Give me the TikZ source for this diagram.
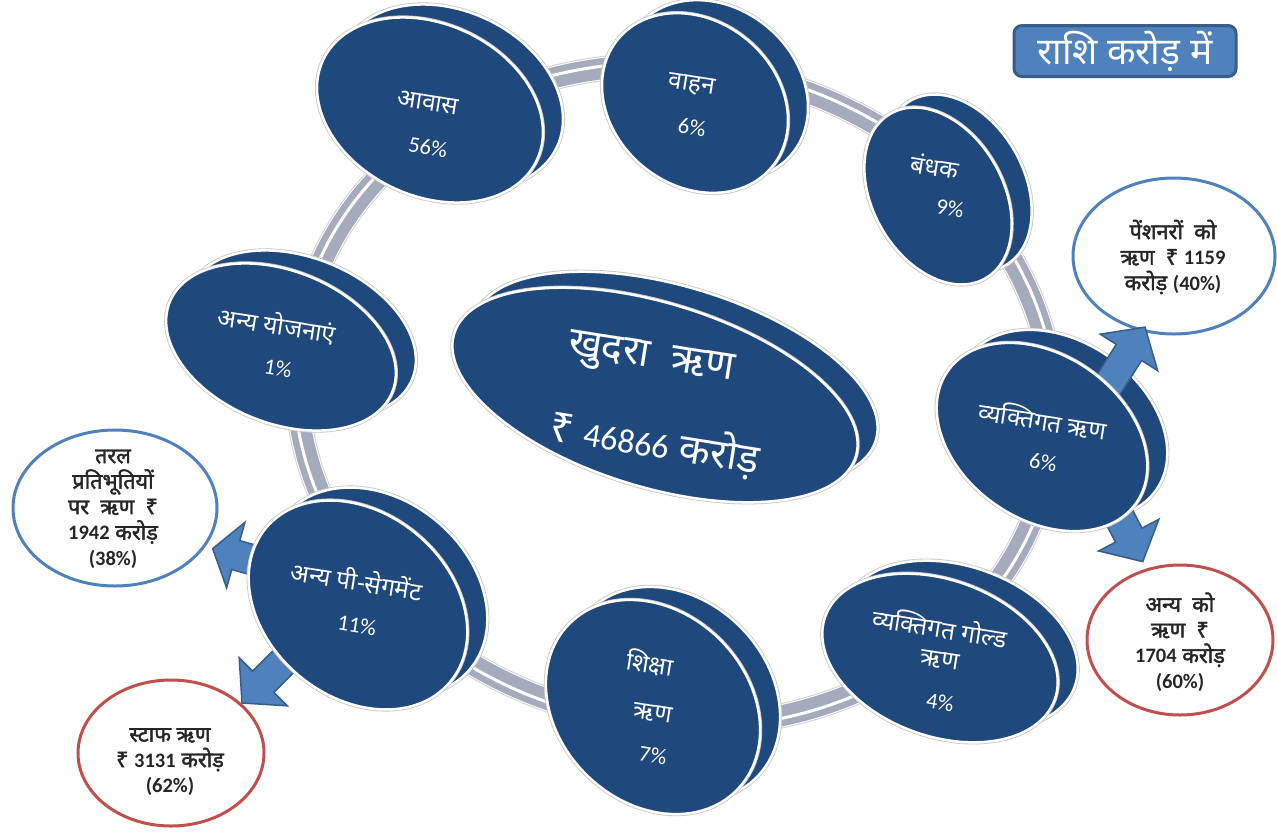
\documentclass[tikz,border=0pt]{standalone}
\usepackage{fontspec}
\setmainfont[Script=Devanagari, Scale=1.2, BoldFont={Noto Sans}, BoldFeatures={FakeBold=2}]{Noto Sans}
\newfontfamily\lat{Carlito}
\newcommand\pct[1]{{\fontsize{22.5}{25}\selectfont\lat #1\%}}
\newcommand\bn[1]{{\fontsize{20.5}{25.5}\selectfont\lat\bfseries #1}}
\usetikzlibrary{shapes.geometric}
\definecolor{navy}{HTML}{1F487C}
\definecolor{ringgray}{HTML}{A5ABBC}
\definecolor{abluefill}{HTML}{4F81BD}
\definecolor{abluedraw}{HTML}{385D8A}
\definecolor{bred}{HTML}{C0504D}
\tikzset{
  disc/.style={fill=navy, draw=white, line width=2.5pt, preaction={draw=black!22, line width=4.2pt}},
  barrow/.style={fill=abluefill, draw=abluedraw, line width=1.5pt, line join=miter},
  lbl/.style={text=white, font=\fontsize{20.5}{25}\selectfont, rotate=-9, inner sep=0pt},
  biglbl/.style={text=white, font=\fontsize{34}{40}\selectfont, rotate=-9, inner sep=0pt},
  bubble/.style={ellipse, fill=white, line width=3pt, inner sep=0pt},
  btext/.style={text=black!85, font=\fontsize{18}{25.5}\selectfont\bfseries, align=center, inner sep=0pt},
}
\newcommand\discB[5]{\draw[disc, rotate around={#5:(#1+20,#2-13)}] (#1+20,#2-13) ellipse [x radius=#3, y radius=#4];}
\newcommand\discF[5]{\draw[disc, rotate around={#5:(#1,#2)}] (#1,#2) ellipse [x radius=#3, y radius=#4];}
\newcommand\blockarrow[5]{% base x, base y, angle, length, head length
  \begin{scope}[shift={(#1,#2)}, rotate=#3]
    \draw[barrow] (0,-15) -- (#4-#5,-15) -- (#4-#5,-34) -- (#4,0) -- (#4-#5,34) -- (#4-#5,15) -- (0,15) -- cycle;
  \end{scope}}
\begin{document}
\begin{tikzpicture}[x=1pt,y=-1pt]
\fill[white] (0,0) rectangle (1277,831);
\useasboundingbox (0,0) rectangle (1277,831);

% ring
\coordinate (rc) at (675,395);
\draw[line width=25pt, black!18, rotate around={-10:(rc)}] (rc) ellipse [x radius=380, y radius=328];
\draw[line width=23pt, white, rotate around={-10:(rc)}] (rc) ellipse [x radius=380, y radius=328];
\draw[line width=21pt, ringgray, rotate around={-10:(rc)}] (rc) ellipse [x radius=380, y radius=328];
\draw[line width=3pt, white, rotate around={-10:(rc)}] (rc) ellipse [x radius=382.5, y radius=330.5];

% bubbles
\node[bubble, draw=abluefill, minimum width=202pt, minimum height=156pt] (pens) at (1174,256) {};
\node[bubble, draw=bred, minimum width=186pt, minimum height=150pt] (anyako) at (1180,640) {};
\node[bubble, draw=abluefill, minimum width=204pt, minimum height=156pt] (taral) at (115,508) {};
\node[bubble, draw=bred, minimum width=186pt, minimum height=146pt] (staff) at (171,753) {};

% back discs
\discB{430}{110}{118}{86}{-25}
\discB{695}{103}{100}{82}{-40}
\discB{938}{196}{95}{65}{-60}
\discB{1042}{437}{115}{82}{-35}
\discB{940}{658}{122}{78}{-20}
\discB{653}{707}{118}{95}{-45}
\discB{358}{605}{120}{92}{-40}
\discB{281}{347}{120}{76}{-22}
\draw[disc, rotate around={-17:(675,379)}] (675,379) ellipse [x radius=210, y radius=92];

% block arrows
\blockarrow{1100}{398}{57.6}{84}{30}
\blockarrow{1105}{490}{-62.2}{81}{30}
\blockarrow{282}{568}{164.4}{72}{24}
\blockarrow{300}{645}{-135}{82}{30}

% front discs
\discF{430}{110}{118}{86}{-25}
\discF{695}{103}{100}{82}{-40}
\discF{938}{196}{95}{65}{-60}
\discF{1042}{437}{115}{82}{-35}
\discF{940}{658}{122}{78}{-20}
\discF{653}{707}{118}{95}{-45}
\discF{358}{605}{120}{92}{-40}
\discF{281}{347}{120}{76}{-22}
\draw[disc, rotate around={-17:(655,395)}] (655,395) ellipse [x radius=210, y radius=92];

% disc labels
\node[lbl] (awas1) at (428,103) {आवास};
\node[lbl] (awas2) at (428,147) {\pct{56}};
\node[lbl] (vah1) at (692,85) {वाहन};
\node[lbl] (vah2) at (692,127) {\pct{6}};
\node[lbl] (ban1) at (935,166) {बंधक};
\node[lbl] (ban2) at (950,208) {\pct{9}};
\node[lbl] (vy1) at (1043,420) {व्यक्तिगत ऋण};
\node[lbl] (vy2) at (1043,462) {\pct{6}};
\node[lbl] (gold1) at (940,627) {व्यक्तिगत गोल्ड};
\node[lbl] (gold2) at (940,660) {ऋण};
\node[lbl] (gold3) at (940,702) {\pct{4}};
\node[lbl] (shi1) at (650,663) {शिक्षा};
\node[lbl] (shi2) at (653,713) {ऋण};
\node[lbl] (shi3) at (653,755) {\pct{7}};
\node[lbl] (pseg1) at (357,580) {अन्य पी-सेगमेंट};
\node[lbl] (pseg2) at (357,625) {\pct{11}};
\node[lbl] (yoj1) at (277,325) {अन्य योजनाएं};
\node[lbl] (yoj2) at (278,368) {\pct{1}};
\node[biglbl] (ctr1) at (651,360) {खुदरा\ \ ऋण};
\node[biglbl] (ctr2) at (655,443) {₹ {\lat 46866} करोड़};

% bubble texts
\node[btext] (penst) at (1173,257) {पेंशनरों\ \ को\\ऋण\ \ ₹ \bn{1159}\\करोड़ \bn{(40\%)}};
\node[btext] (anyat) at (1180,642) {अन्य\ \ को\\ऋण\ \ ₹\\\bn{1704} करोड़\\\bn{(60\%)}};
\node[btext] (taralt) at (113,509) {तरल\\प्रतिभूतियों\\पर\ \ ऋण\ \ ₹\\\bn{1942} करोड़\\\bn{(38\%)}};
\node[btext] (stafft) at (170,762) {स्टाफ ऋण\\₹ \bn{3131} करोड़\\\bn{(62\%)}};

% unit box
\node[draw=abluedraw, line width=3pt, fill=abluefill, rounded corners=8pt, minimum width=222pt, minimum height=51pt, text=white, font=\fontsize{31}{34}\selectfont] (unit) at (1125,51) {राशि करोड़ में};
\end{tikzpicture}
\end{document}
